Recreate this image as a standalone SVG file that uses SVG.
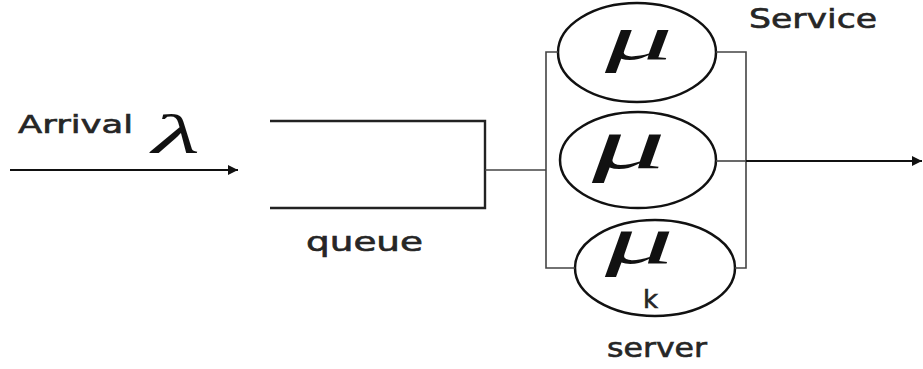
<svg xmlns="http://www.w3.org/2000/svg" width="923" height="369" viewBox="0 0 923 369">
  <style>
    .lbl { font-family: "DejaVu Sans", "Liberation Sans", sans-serif; fill: #262626; stroke: #262626; stroke-width: 0.6; }
    .sym { font-family: "Liberation Serif", "DejaVu Serif", serif; font-style: italic; fill: #111; }
    .server { fill: #fff; stroke: #111; stroke-width: 2.5; }
    .wire { fill: none; stroke: #444; stroke-width: 1.6; }
    .queue { fill: none; stroke: #222; stroke-width: 2.4; }
    .flow { fill: none; stroke: #111; stroke-width: 2; }
  </style>
  <defs>
    <marker id="head" viewBox="0 0 10 10" refX="10" refY="5" markerWidth="8" markerHeight="5" markerUnits="strokeWidth" orient="auto">
      <path d="M0,0 L10,5 L0,10 Z" fill="#111"/>
    </marker>
  </defs>
  <rect width="923" height="369" fill="#fff"/>

  <!-- arrival stream -->
  <g id="arrival">
    <text class="lbl" x="18" y="133" font-size="25" textLength="115" lengthAdjust="spacingAndGlyphs">Arrival</text>
    <text class="sym" x="152" y="153" font-size="54" textLength="48" lengthAdjust="spacingAndGlyphs">λ</text>
  </g>

  <!-- waiting line -->
  <g id="queue">
    <path class="queue" d="M270,121 H485 V208 H270"/>
    <text class="lbl" x="306" y="251" font-size="26" textLength="117" lengthAdjust="spacingAndGlyphs">queue</text>
  </g>

  <!-- parallel servers -->
  <g id="server1">
    <ellipse class="server" cx="637" cy="52.5" rx="79" ry="49.5"/>
    <text class="sym" x="605" y="59" font-size="63" textLength="68" lengthAdjust="spacingAndGlyphs">μ</text>
  </g>
  <g id="server2">
    <ellipse class="server" cx="638" cy="160" rx="78" ry="48"/>
    <text class="sym" x="592" y="168" font-size="72" textLength="74" lengthAdjust="spacingAndGlyphs">μ</text>
  </g>
  <g id="server3">
    <ellipse class="server" cx="655" cy="268" rx="80" ry="48"/>
    <text class="sym" x="605" y="263" font-size="68" textLength="69" lengthAdjust="spacingAndGlyphs">μ</text>
    <text class="lbl" x="643" y="308" font-size="25" textLength="15" lengthAdjust="spacingAndGlyphs">k</text>
  </g>

  <g id="labels">
    <text class="lbl" x="749" y="28" font-size="26" textLength="128" lengthAdjust="spacingAndGlyphs">Service</text>
    <text class="lbl" x="607" y="357" font-size="26" textLength="100" lengthAdjust="spacingAndGlyphs">server</text>
  </g>

  <!-- connectors -->
  <g id="connectors">
    <line class="flow" x1="10" y1="170" x2="238" y2="170" marker-end="url(#head)"/>
    <path class="wire" d="M485,170 H546"/>
    <path class="wire" d="M558,52 H546 V268 H575"/>
    <path class="wire" d="M716,52 H746 V268 H735"/>
    <path class="wire" d="M716,161 H746"/>
    <line class="flow" x1="746" y1="161" x2="922" y2="161" marker-end="url(#head)"/>
  </g>
</svg>
